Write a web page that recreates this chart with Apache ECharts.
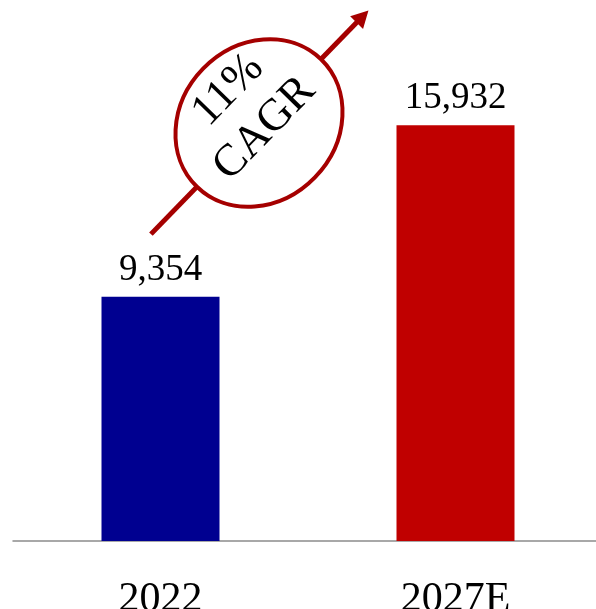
<!DOCTYPE html>
<html>
<head>
<meta charset="utf-8">
<script src="https://cdn.jsdelivr.net/npm/echarts@6/dist/echarts.min.js"></script>
<style>
  html, body { margin: 0; padding: 0; background: #fff; }
  #chart { width: 596px; height: 609px; }
</style>
</head>
<body>
<div id="chart"></div>
<script>
// Market size, actual vs. forecast
const categories = ['2022', '2027E'];
const values = [9354, 15932];
const barColors = ['#000090', '#C00000'];
const cagrLines = ['11%', 'CAGR'];

const serif = '"Liberation Serif", "Times New Roman", serif';
const accent = '#A50000';
const tilt = 45.8 * Math.PI / 180;

const chart = echarts.init(document.getElementById('chart'), null, { renderer: 'canvas' });

chart.setOption({
  animation: false,
  grid: { left: 13, width: 590, top: 19, bottom: 68, containLabel: false, outerBoundsMode: 'none' },
  xAxis: {
    type: 'category',
    data: categories,
    axisLine: { show: true, lineStyle: { color: '#8c8c8c', width: 1.5 } },
    axisTick: { show: false },
    axisLabel: { color: '#000', fontFamily: serif, fontSize: 42, margin: 38 }
  },
  yAxis: {
    type: 'value',
    min: 0,
    max: 20000,
    show: false,
    splitLine: { show: false }
  },
  series: [{
    type: 'bar',
    barWidth: '40%',
    data: values.map((v, i) => ({ value: v, itemStyle: { color: barColors[i] } })),
    label: {
      show: true,
      position: 'top',
      distance: 8,
      color: '#000',
      fontFamily: serif,
      fontSize: 37,
      formatter: p => p.value.toLocaleString('en-US')
    }
  }],
  graphic: [{
    type: 'group',
    x: 259,
    y: 123,
    rotation: tilt,
    children: [
      {
        type: 'line',
        shape: { x1: -155, y1: 0, x2: 146, y2: 0 },
        style: { stroke: accent, lineWidth: 5 }
      },
      {
        type: 'polygon',
        shape: { points: [[157, 0], [140, -9], [140, 9]] },
        style: { fill: accent }
      },
      {
        type: 'ellipse',
        shape: { cx: 0, cy: 0, rx: 89, ry: 78 },
        style: { fill: '#fff', stroke: accent, lineWidth: 4 }
      },
      {
        type: 'text',
        x: 2,
        y: -45,
        style: {
          text: cagrLines[0],
          font: '45px ' + serif,
          fill: '#000',
          align: 'center',
          verticalAlign: 'middle'
        }
      },
      {
        type: 'text',
        x: 0,
        y: 8,
        style: {
          text: cagrLines[1],
          font: '45px ' + serif,
          fill: '#000',
          align: 'center',
          verticalAlign: 'middle'
        }
      }
    ]
  }]
});
</script>
</body>
</html>
